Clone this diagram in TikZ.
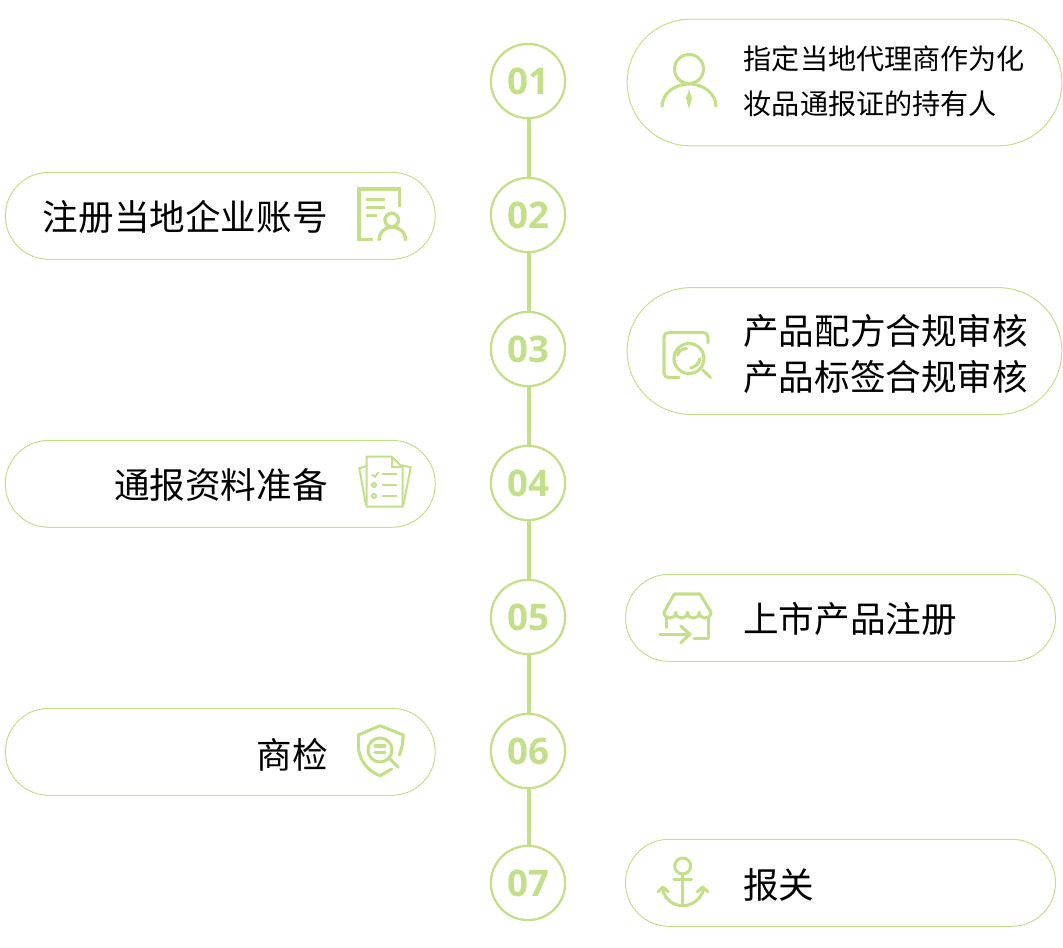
\documentclass[tikz,border=0pt]{standalone}
\usepackage{fontspec}
\usetikzlibrary{shapes.misc}
\setmainfont{Open Sans}
\newfontfamily\cjk{Noto Sans CJK SC}
\definecolor{lime}{HTML}{C3E088}
\tikzset{
  pill/.style={rounded rectangle,draw=lime,line width=0.75pt,inner sep=0pt,outer sep=0pt},
  pillbig/.style={pill,minimum width=326pt,minimum height=95pt},
  pillsmall/.style={pill,minimum width=322.5pt,minimum height=65.25pt},
  stepnum/.style={circle,draw=lime,line width=1.7pt,minimum size=55.7pt,inner sep=0pt,outer sep=0pt,text=lime,font=\fontsize{27.5}{30}\selectfont\bfseries},
  numtext/.style={text=lime,inner sep=0pt,font=\fontsize{27.5}{30}\selectfont\bfseries},
  link/.style={draw=lime,line width=3pt},
  lab/.style={inner sep=0pt,text=black,font=\cjk\fontsize{26.7}{30}\selectfont},
  labsmall/.style={inner sep=0pt,text=black,font=\cjk\fontsize{21.1}{24}\selectfont},
  ic/.style={draw=lime,line width=2.3pt,line cap=round,line join=round},
  icthick/.style={draw=lime,line width=2.5pt,line join=miter},
  icthin/.style={draw=lime,line width=1.5pt,line join=miter},
}
\begin{document}
\begin{tikzpicture}[x=0.75pt,y=-0.75pt]
\useasboundingbox (0,0) rectangle (1063,948);
% pills
\node[pillbig]   (p1) at (844.5,82.5) {};
\node[pillsmall] (p2) at (220.3,215.8) {};
\node[pillbig]   (p3) at (844.5,351) {};
\node[pillsmall] (p4) at (220.3,483.8) {};
\node[pillsmall] (p5) at (840.5,617.8) {};
\node[pillsmall] (p6) at (220.3,751.8) {};
\node[pillsmall] (p7) at (840.5,882.8) {};
% steps
\node[stepnum] (c1) at (528,81) {\raisebox{-0.75pt}{\hspace{1.2pt}01}};
\node[stepnum] (c2) at (528,215) {\raisebox{-0.75pt}{\hspace{1.2pt}02}};
\node[stepnum] (c3) at (528,349) {\raisebox{-0.75pt}{\hspace{1.2pt}03}};
\node[stepnum] (c4) at (528,483) {\raisebox{-0.75pt}{\hspace{1.2pt}04}};
\node[stepnum] (c5) at (528,617) {\raisebox{-0.75pt}{\hspace{1.2pt}05}};
\node[stepnum] (c6) at (528,751) {\raisebox{-0.75pt}{\hspace{1.2pt}06}};
\node[stepnum] (c7) at (528,883) {\raisebox{-0.75pt}{\hspace{1.2pt}07}};
\foreach \a/\b in {c1/c2,c2/c3,c3/c4,c4/c5,c5/c6,c6/c7}
  \draw[link] ([xshift=0.75pt]\a.south) -- ([xshift=0.75pt]\b.north);
% labels
\node[labsmall,anchor=west] (t1a) at (743.5,59) {指定当地代理商作为化};
\node[labsmall,anchor=west] (t1b) at (743.5,104) {妆品通报证的持有人};
\node[lab,anchor=east] (t2) at (328,217) {注册当地企业账号};
\node[lab,anchor=west] (t3a) at (743,331) {产品配方合规审核};
\node[lab,anchor=west] (t3b) at (743,377) {产品标签合规审核};
\node[lab,anchor=east] (t4) at (328,485) {通报资料准备};
\node[lab,anchor=west] (t5) at (743,619) {上市产品注册};
\node[lab,anchor=east] (t6) at (328,755) {商检};
\node[lab,anchor=west] (t7) at (743,885) {报关};
% icon 1: person
\draw[ic,line cap=butt] (689,69) circle (14.5);
\draw[ic,line cap=butt] (662,107) .. controls (662,93) and (675,84) .. (689,84) .. controls (703,84) and (716,93) .. (716,107);
\fill[lime] (689,89.5) -- (692,98) -- (689,109) -- (686,98) -- cycle;
% icon 2: document with person
\draw[icthick] (399.3,206.7) -- (399.3,189) -- (359,189) -- (359,239.3) -- (372.7,239.3);
\draw[icthick] (366,199.3) -- (385,199.3) (366,207.3) -- (385,207.3) (366,215.3) -- (377,215.3);
\draw[icthick] (391.7,220) circle (6.8);
\draw[icthick] (379,240.7) .. controls (379,232) and (385,227) .. (392,227) .. controls (399,227) and (405.7,232) .. (405.7,240.7);
% icon 3: square with lens
\draw[ic] (708,342.5) -- (708,337) .. controls (708,334) and (706,332.5) .. (703,332.5) -- (669,332.5) .. controls (666,332.5) and (664,334) .. (664,337) -- (664,373) .. controls (664,376) and (666,377.5) .. (669,377.5) -- (679,377.5);
\draw[ic] (689,358.5) circle (15);
\draw[ic] (702.7,370) -- (710.5,377.5);
\draw[ic] (677.7,355) .. controls (678.5,351) and (681,349) .. (686.5,348.5);
\draw[ic] (690.5,368) .. controls (695,367) and (699,364) .. (700,358.5);
% icon 4: checklist
\draw[icthin] (391.7,456.7) -- (366.7,456.7) -- (366.7,506.7) -- (402.7,506.7) -- (402.7,467.3) -- cycle;
\draw[icthin] (391.7,456.7) -- (391.7,467.3) -- (402.7,467.3);
\draw[icthin] (366.7,466) -- (359.3,468.3) -- (366,505);
\draw[icthin] (400,465) -- (410.7,467.3) -- (403.3,505);
\draw[icthin] (381.7,474.3) -- (397.3,474.3) (381.7,485) -- (397.3,485) (381.7,496) -- (397.3,496);
\draw[icthin,line cap=round] (372.3,475) -- (375,476.7) -- (378.3,472.7);
\draw[icthin] (374,485) circle (2);
\draw[icthin] (374,496) circle (2);
% icon 6: shield with lens
\draw[ic] (399.3,755) .. controls (401,750) and (402.7,746) .. (402.7,741) -- (403.3,735) -- (380,725.7) -- (358.3,735) -- (358.3,745) .. controls (358.3,760) and (368,771) .. (380,775.7) -- (391.7,769);
\draw[ic] (380,750) circle (12);
\draw[ic] (390,759) -- (398.3,767.3);
\draw[ic] (375,746) -- (385,746) (375,752.7) -- (385,752.7);
% icon 5: shop
\draw[ic] (664,612.3) -- (674.3,594) -- (700,594) -- (711,612.3);
\draw[ic] (664,612.3) .. controls (664,620) and (675.7,620) .. (675.7,612.3) .. controls (675.7,620) and (687.5,620) .. (687.5,612.3) .. controls (687.5,620) and (699.3,620) .. (699.3,612.3) .. controls (699.3,620) and (711,620) .. (711,612.3);
\draw[ic] (666.7,617) -- (666.7,627.7);
\draw[ic] (708.7,617) -- (708.7,638.3) -- (694,638.3);
\draw[ic] (660,634.3) -- (690,634.3);
\draw[ic] (680.7,626) -- (690,634.3) -- (680.7,642.7);
% icon 7: anchor
\draw[ic,line cap=butt] (682.7,866) circle (8);
\draw[ic,line cap=butt] (682.7,874) -- (682.7,905);
\draw[ic] (674,879.7) -- (691.7,879.7);
\draw[ic] (662.7,890) .. controls (665,899) and (673,905.7) .. (682.7,905.7) .. controls (692,905.7) and (701,899) .. (703.3,890);
\draw[ic] (658.3,891.7) -- (662.7,887) -- (668.3,891.7);
\draw[ic] (697.3,891.7) -- (702.7,887) -- (707.7,891.7);
\end{tikzpicture}
\end{document}
